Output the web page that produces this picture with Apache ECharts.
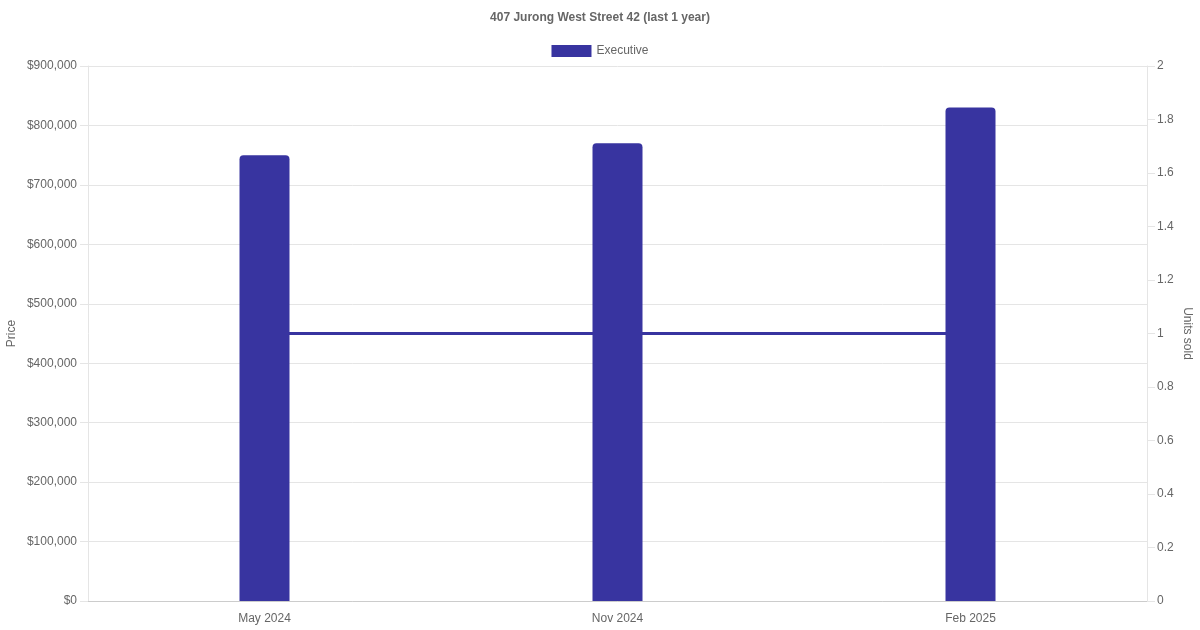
<!DOCTYPE html>
<html>
<head>
<meta charset="utf-8">
<script src="https://cdn.jsdelivr.net/npm/echarts@6/dist/echarts.min.js"></script>
<style>
  html, body { margin: 0; padding: 0; background: #fff; }
  #chart { width: 1200px; height: 630px; }
</style>
</head>
<body>
<div id="chart"></div>
<script>
// data
const months = ['May 2024', 'Nov 2024', 'Feb 2025'];
const executivePrice = [750000, 770000, 830000];
const unitsSold = [1, 1, 1];

const barColor = '#3834a0';
const textColor = '#666';
const gridColor = '#e5e5e5';
const font = '"Liberation Sans", Arial, sans-serif';

const chart = echarts.init(document.getElementById('chart'));

const option = {
  animation: false,
  textStyle: { fontFamily: font },
  title: {
    text: '407 Jurong West Street 42 (last 1 year)',
    left: 'center',
    top: 7,
    textStyle: { fontSize: 12, fontWeight: 'bold', color: textColor, fontFamily: font }
  },
  legend: {
    top: 40,
    left: 'center',
    itemWidth: 40,
    itemHeight: 12,
    itemGap: 10,
    data: [{ name: 'Executive', icon: 'rect' }],
    textStyle: { fontSize: 12, color: textColor, fontFamily: font }
  },
  grid: { left: 88, right: 53, top: 66, bottom: 29, outerBoundsMode: 'none', containLabel: false },
  xAxis: {
    type: 'category',
    data: months,
    axisLine: { lineStyle: { color: '#ccc' } },
    axisTick: { show: false },
    axisLabel: { color: textColor, fontSize: 12, margin: 12, fontFamily: font },
    splitLine: { show: false }
  },
  yAxis: [
    {
      type: 'value',
      name: 'Price',
      nameLocation: 'middle',
      nameGap: 70,
      nameMoveOverlap: false,
      nameTextStyle: { color: textColor, fontSize: 12, fontFamily: font },
      min: 0,
      max: 900000,
      interval: 100000,
      axisLine: { show: true, lineStyle: { color: gridColor } },
      axisTick: { show: true, length: 8, lineStyle: { color: gridColor } },
      axisLabel: {
        color: textColor, fontSize: 12, margin: 11, fontFamily: font,
        formatter: v => '$' + v.toLocaleString('en-US')
      },
      splitLine: { lineStyle: { color: gridColor } }
    },
    {
      type: 'value',
      name: 'Units sold',
      nameLocation: 'middle',
      nameGap: 34,
      nameMoveOverlap: false,
      nameRotate: -90,
      nameTextStyle: { color: textColor, fontSize: 12, fontFamily: font },
      min: 0,
      max: 2,
      interval: 0.2,
      position: 'right',
      axisLine: { show: true, lineStyle: { color: gridColor } },
      axisTick: { show: true, length: 8, lineStyle: { color: gridColor } },
      axisLabel: {
        color: textColor, fontSize: 12, margin: 10, fontFamily: font,
        formatter: v => String(Math.round(v * 10) / 10)
      },
      splitLine: { show: false }
    }
  ],
  series: [
    {
      name: 'Executive',
      type: 'bar',
      yAxisIndex: 0,
      data: executivePrice,
      barWidth: 50,
      z: 3,
      itemStyle: { color: barColor, borderRadius: [4, 4, 0, 0] }
    },
    {
      name: 'Executive units',
      type: 'line',
      yAxisIndex: 1,
      data: unitsSold,
      z: 1,
      symbol: 'none',
      lineStyle: { color: barColor, width: 3 },
      itemStyle: { color: barColor }
    }
  ]
};

chart.setOption(option);
</script>
</body>
</html>
